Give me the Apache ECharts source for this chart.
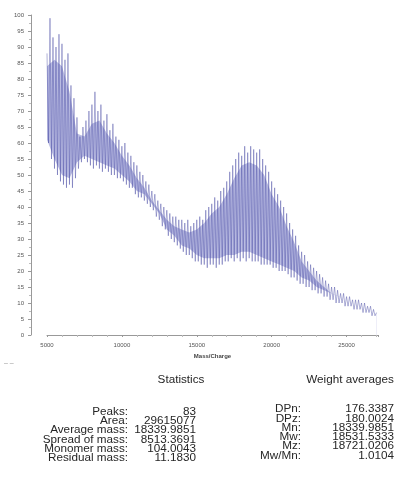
<!DOCTYPE html>
<html>
<head>
<meta charset="utf-8">
<script src="https://cdn.jsdelivr.net/npm/echarts@6/dist/echarts.min.js"></script>
<style>
html,body{margin:0;padding:0;background:#fff;}
#chart{width:398px;height:484px;}
</style>
</head>
<body>
<div id="chart"></div>
<script>
// Spectrum: mass/charge sampling and intensity (alternating peak / trough)
var massStart = 5000;
var massStep = 100;
var intensity = [
  88, 60, 99, 55, 93, 52, 90, 50, 94, 48,
  91, 47, 86, 46, 88, 47, 78, 46, 74, 49,
  68, 52, 62, 54, 65, 55, 67, 54, 70, 53,
  72, 52, 76, 53, 70, 52, 72, 51, 67, 52,
  69, 51, 64, 50, 66, 50, 62, 49, 61, 49,
  59, 48, 60, 47, 57, 46, 56, 46, 54, 44,
  53, 43, 51, 43, 50, 42, 48, 41, 47, 40,
  45, 39, 44, 37, 42, 36, 41, 34, 40, 33,
  39, 31, 38, 30, 37, 29, 37, 28, 36, 27,
  36, 26, 35, 25, 36, 25, 34, 24, 35, 23,
  36, 23, 37, 22, 36, 22, 39, 21, 40, 22,
  41, 22, 43, 21, 42, 22, 45, 22, 46, 23,
  48, 23, 51, 24, 53, 23, 55, 24, 57, 23,
  56, 24, 59, 23, 57, 24, 59, 23, 58, 23,
  57, 23, 58, 22, 55, 22, 53, 22, 51, 22,
  48, 21, 46, 21, 44, 20, 42, 20, 40, 20,
  38, 19, 35, 18, 33, 18, 31, 17, 28, 16,
  26, 16, 25, 15, 23, 15, 22, 14, 21, 14,
  20, 13, 19, 13, 18, 12, 17, 12, 16, 11,
  15, 11, 15, 10, 14, 10, 13, 10, 13, 9,
  12, 9, 12, 9, 11, 8, 11, 8, 11, 8,
  10, 7, 10, 7, 9, 7, 9, 6, 8, 6,
  7
];
// Envelope of the dense peak band, read every 500 Da
var envMasses = [5000,5500,6000,6500,7000,7500,8000,8500,9000,9500,10000,10500,11000,11500,12000,12500,13000,13500,14000,14500,15000,15500,16000,16500,17000,17500,18000,18500,19000,19500,20000,20500,21000,21500,22000,22500,23000,23500,24000,24500,25000,25500,26000,26500,27000];
var envUpper = [84,86,84,76,63,62,66,67,63,60,56,53,49,46,42,39,36,34,33,32,33,35,38,40,44,49,53,54,53,50,44,40,34,29,23,20,17,15,13,12,10.5,9.5,8.5,7.5,6.8];
var envLower = [61,55,50,49,54,56,55,54,53,52,50,48,45,44,41,38,33,31,28,27,25,24,24,24,25,25,26,26,25,24,23,22,21,20,18,17,15,14,13,12,11,10,9,8,7];

var xTicks = [5000, 10000, 15000, 20000, 25000];
var yTicks = [0, 100, 5];

var statLabels = ["Peaks:", "Area:", "Average mass:", "Spread of mass:", "Monomer mass:", "Residual mass:"];
var statValues = ["83", "29615077", "18339.9851", "8513.3691", "104.0043", "11.1830"];
var wLabels = ["DPn:", "DPz:", "Mn:", "Mw:", "Mz:", "Mw/Mn:"];
var wValues = ["176.3387", "180.0024", "18339.9851", "18531.5333", "18721.0206", "1.0104"];

var seriesData = intensity.map(function (v, i) { return [massStart + i * massStep, v]; });
var upperData = envMasses.map(function (m, i) { return [m, envUpper[i]]; });
var lowerData = envMasses.map(function (m, i) { return [m, envLower[i]]; });

var chart = echarts.init(document.getElementById('chart'));
var font = '"Liberation Sans", Arial, sans-serif';
var sx = 1.17;
function txt(x, y, s, align) {
  return {type:'text', x:x, y:y, scaleX:sx, scaleY:1, style:{text:s, font:'10px ' + font, fill:'#262626', textAlign:align, textVerticalAlign:'middle'}};
}
var graphics = [];
graphics.push(txt(181, 380, 'Statistics', 'center'));
graphics.push(txt(350, 380, 'Weight averages', 'center'));
var lY = [412, 421.3, 430.6, 439.9, 449.2, 458.5];
var rY = [409.5, 418.8, 428.1, 437.4, 446.7, 456];
for (var i = 0; i < statLabels.length; i++) {
  graphics.push(txt(128, lY[i], statLabels[i], 'right'));
  graphics.push(txt(196, lY[i], statValues[i], 'right'));
  graphics.push(txt(301, rY[i], wLabels[i], 'right'));
  graphics.push(txt(394, rY[i], wValues[i], 'right'));
}
graphics.push({type:'text', x:4, y:363, style:{text:'‒ ‒', font:'7px ' + font, fill:'#999', textVerticalAlign:'middle'}});

chart.setOption({
  animation: false,
  backgroundColor: '#fff',
  grid: {left: 47, right: 20, top: 15, bottom: 149},
  xAxis: {
    type: 'value',
    min: xTicks[0],
    max: 27100,
    interval: xTicks[1] - xTicks[0],
    offset: 3,
    name: 'Mass/Charge',
    nameLocation: 'middle',
    nameGap: 12,
    nameTextStyle: {fontSize: 6, fontWeight: 'bold', color: '#444', fontFamily: font},
    axisLine: {lineStyle: {color: '#999', width: 1}},
    axisTick: {length: 2, lineStyle: {color: '#999'}},
    minorTick: {show: true, splitNumber: 5, length: 2, lineStyle: {color: '#bbb'}},
    splitLine: {show: false},
    axisLabel: {fontSize: 6, color: '#555', margin: 4, fontFamily: font, showMaxLabel: false,
      formatter: function (v) { return String(v); }}
  },
  yAxis: {
    type: 'value',
    min: yTicks[0],
    max: yTicks[1],
    interval: yTicks[2],
    offset: 16,
    axisLine: {show: true, lineStyle: {color: '#999', width: 1}},
    axisTick: {length: 3, lineStyle: {color: '#999'}},
    minorTick: {show: true, splitNumber: 2, length: 2, lineStyle: {color: '#bbb'}},
    splitLine: {show: false},
    axisLabel: {fontSize: 6, color: '#555', margin: 7, fontFamily: font}
  },
  graphic: graphics,
  series: [{
    type: 'line',
    data: upperData,
    symbol: 'none',
    lineStyle: {opacity: 0},
    areaStyle: {color: 'rgb(186,188,226)', opacity: 1},
    silent: true,
    z: 1
  }, {
    type: 'line',
    data: lowerData,
    symbol: 'none',
    lineStyle: {opacity: 0},
    areaStyle: {color: '#ffffff', opacity: 1},
    silent: true,
    z: 2
  }, {
    type: 'line',
    data: seriesData,
    symbol: 'none',
    lineStyle: {color: 'rgba(62,66,158,0.6)', width: 0.7},
    silent: true,
    z: 3
  }]
});
</script>
</body>
</html>
